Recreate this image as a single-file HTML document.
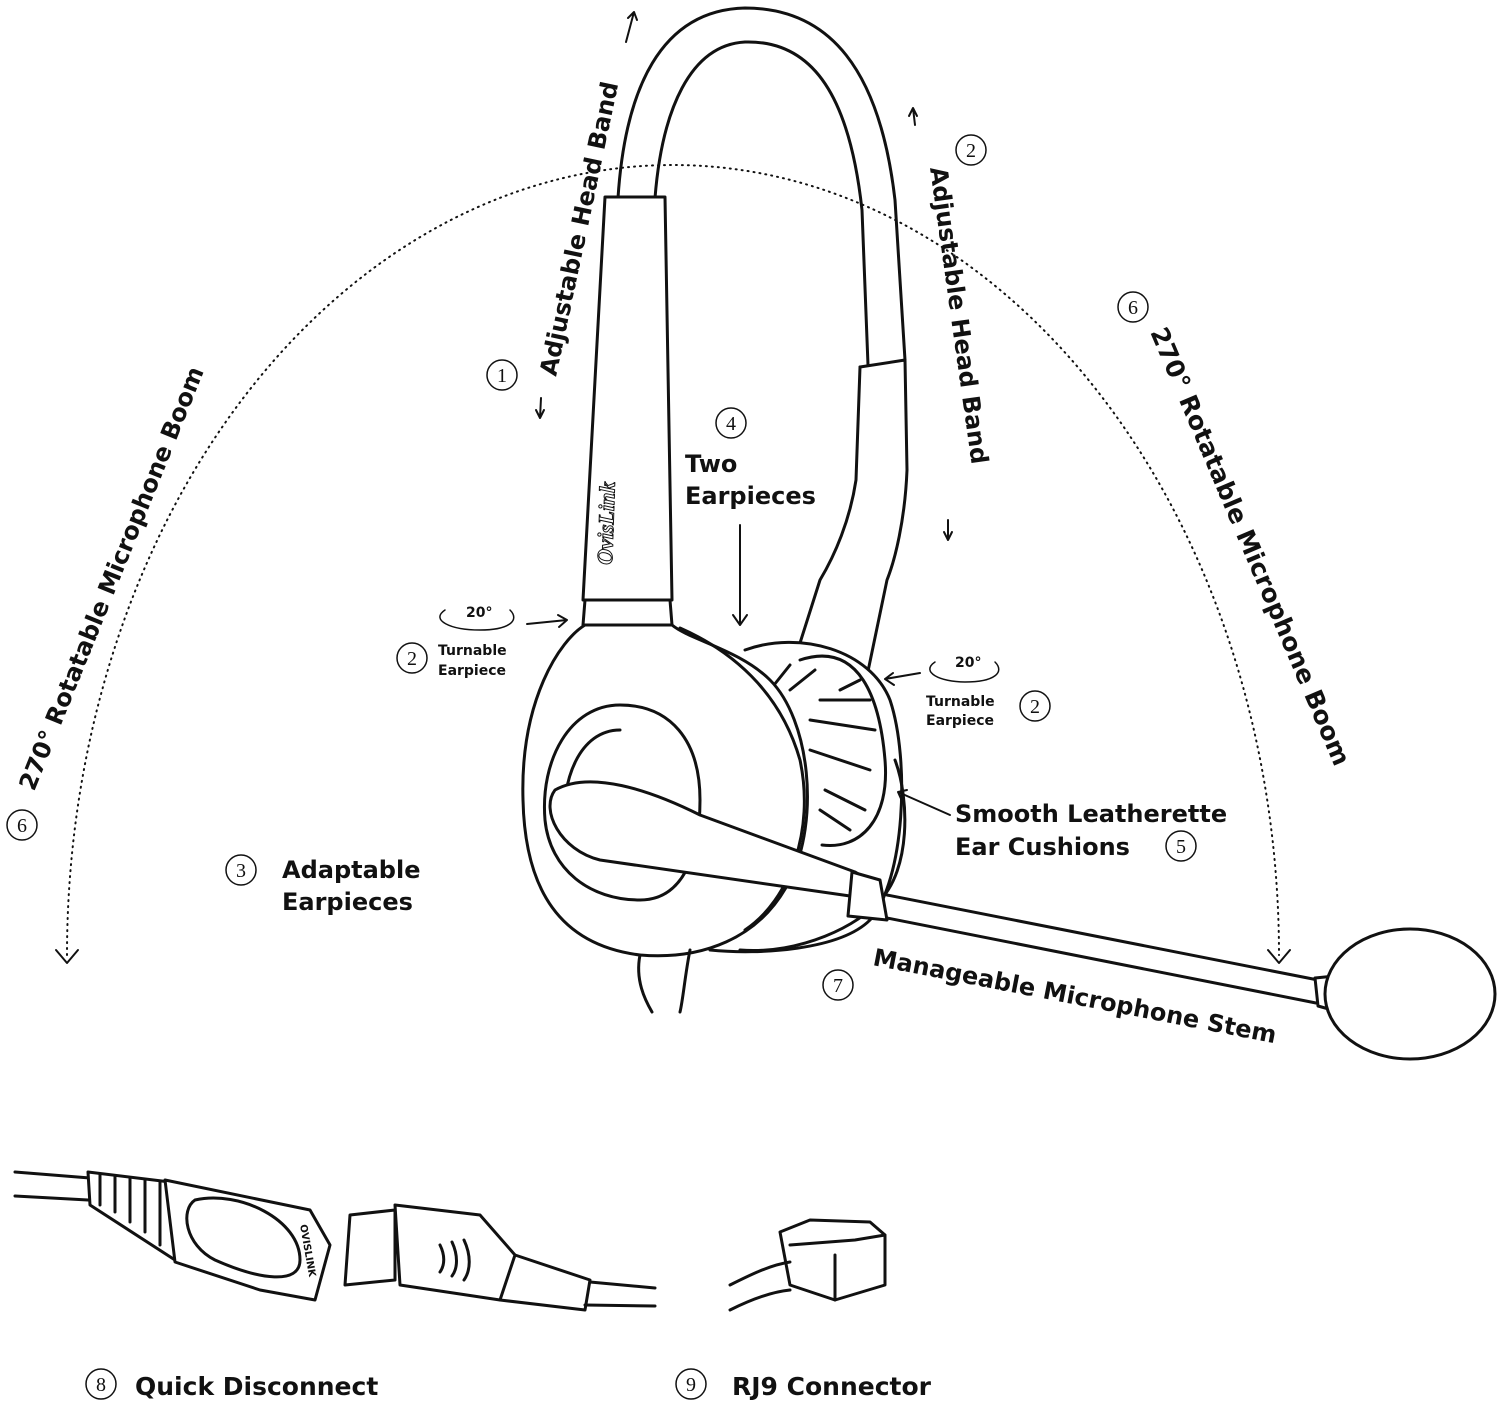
<!DOCTYPE html>
<html><head><meta charset="utf-8"><style>
html,body{margin:0;padding:0;background:#fff;}
svg{display:block}
.t{font-family:"DejaVu Sans","Liberation Sans",sans-serif;font-weight:bold;fill:#111;}
.n{font-family:"Liberation Serif",serif;fill:#111;}
</style></head><body>
<svg width="1500" height="1402" viewBox="0 0 1500 1402" xmlns="http://www.w3.org/2000/svg">
<defs>
<g id="circ"><circle r="15" fill="none" stroke="#111" stroke-width="1.5"/></g>
</defs>
<g fill="none" stroke="#111" stroke-width="3" stroke-linecap="round" stroke-linejoin="round">
<path d="M67,955 A606,790 0 0 1 1279,955" stroke-width="2" stroke-dasharray="1 5"/>
<path d="M56,950 L67,963 L78,950" stroke-width="2"/>
<path d="M1268,950 L1279,963 L1290,950" stroke-width="2"/>
<!-- headband -->
<path d="M618,198 C625,90 660,10 745,8 C830,8 880,70 895,200 L905,360"/>
<path d="M655,198 C662,110 690,45 745,42 C815,40 850,100 862,210 L868,365"/>
<!-- left slider -->
<path d="M605,197 L665,197 L672,600 L583,600 Z" fill="#fff"/>
<path d="M585,600 L670,600 L672,625 L583,625 Z" fill="#fff"/>
<!-- right slider -->
<path d="M860,367 L905,360 L907,470 C905,520 895,560 887,580 L867,676"/>
<path d="M860,367 L856,480 C850,520 835,555 820,580 L800,643"/>
<!-- right cushion -->
<path d="M745,650 C800,630 870,650 890,700 C910,760 905,880 870,920 C840,950 760,955 710,950" fill="#fff"/>
<path d="M800,660 C860,640 880,700 885,760 C890,820 860,850 822,845"/>
<path d="M840,690 L860,680 M820,700 L870,700 M810,720 L875,730 M810,750 L870,770 M825,790 L865,810 M820,810 L850,830 M790,690 L815,670 M770,690 L790,665"/>
<path d="M895,760 C910,800 910,870 880,900 C860,925 800,955 740,950"/>
<!-- left earpiece body -->
<path d="M585,625 C560,640 520,700 523,800 C525,890 560,945 640,955 C700,960 760,940 790,880 C820,820 810,720 770,680 C740,650 690,640 672,625 Z" fill="#fff"/>
<path d="M680,628 C730,650 780,690 800,760 C815,830 790,900 745,930"/>
<path d="M620,705 C570,705 540,760 545,820 C550,870 590,900 640,900 C680,900 700,860 700,800 C700,740 670,705 620,705 Z"/>
<path d="M620,730 C580,730 560,780 565,830"/>
<!-- mic boom arm -->
<path d="M555,790 C590,770 650,790 700,815 L855,872 C870,880 868,895 850,896 L600,860 C560,850 540,810 555,790 Z" fill="#fff"/>
<path d="M852,872 L880,880 L887,920 L848,916 Z" fill="#fff"/>
<path d="M887,895 L1318,980 M887,918 L1316,1003"/>
<path d="M1315,978 L1345,975 L1350,1015 L1318,1006 Z" fill="#fff"/>
<ellipse cx="1410" cy="994" rx="85" ry="65" fill="#fff"/>
<!-- cord -->
<path d="M640,955 C635,980 645,1000 652,1012 M690,950 C685,975 683,1000 680,1012"/>
<!-- quick disconnect -->
<path d="M15,1172 L90,1178 M15,1196 L88,1200"/>
<path d="M88,1172 L170,1182 L175,1260 L90,1205 Z" fill="#fff"/>
<path d="M100,1175 L100,1205 M115,1177 L115,1212 M130,1178 L130,1222 M145,1180 L145,1232 M160,1181 L160,1245"/>
<path d="M165,1180 L310,1210 L330,1245 L315,1300 L260,1290 L175,1262 Z" fill="#fff"/>
<path d="M195,1200 C240,1190 300,1220 300,1260 C300,1285 260,1280 215,1260 C185,1245 180,1210 195,1200 Z"/>
<path d="M350,1215 L395,1210 L395,1280 L345,1285 Z" fill="#fff"/>
<path d="M395,1205 L480,1215 L515,1255 L500,1300 L400,1285 Z" fill="#fff"/>
<path d="M515,1255 L590,1280 L585,1310 L500,1300"/>
<path d="M590,1282 L655,1288 M585,1305 L655,1306"/>
<path d="M440,1245 C445,1255 445,1265 440,1272 M452,1242 C458,1255 458,1268 452,1276 M464,1240 C471,1255 471,1270 464,1280"/>
<!-- RJ9 -->
<path d="M780,1232 L810,1220 L870,1222 L885,1235 L885,1285 L835,1300 L790,1285 Z" fill="#fff"/>
<path d="M790,1245 L855,1240 L885,1235 M835,1255 L835,1300"/>
<path d="M730,1285 C750,1275 770,1265 790,1262 M730,1310 C750,1300 770,1292 790,1290"/>
<!-- arrows -->
<path d="M740,525 L740,625 M733,615 L740,625 L747,615" stroke-width="2"/>
<path d="M527,624 L567,620 M558,615 L567,620 L559,627" stroke-width="2"/>
<path d="M920,673 L885,679 M893,673 L885,679 L894,685" stroke-width="2"/>
<path d="M950,815 L898,792 M902,801 L898,792 L907,790" stroke-width="2"/>
<path d="M541,398 L540,418 M536,410 L540,418 L544,410" stroke-width="2"/>
<path d="M626,42 L634,12 M628,18 L634,12 L637,20" stroke-width="2"/>
<path d="M915,125 L913,108 M909,116 L913,108 L917,116" stroke-width="2"/>
<path d="M948,520 L948,540 M944,532 L948,540 L952,532" stroke-width="2"/>
<path d="M445,610 C430,620 450,630 480,630 C510,630 520,620 510,610" stroke-width="1.5"/>
<path d="M935,662 C920,672 940,682 965,682 C995,682 1005,672 995,662" stroke-width="1.5"/>
</g>
<text class="t" font-size="24" transform="translate(556,377) rotate(-78)">Adjustable Head Band</text>
<text class="t" font-size="24" transform="translate(930,168) rotate(82)">Adjustable Head Band</text>
<text class="t" font-size="24" transform="translate(34,792) rotate(-68)">270° Rotatable Microphone Boom</text>
<text class="t" font-size="25" transform="translate(1150,332) rotate(67)">270° Rotatable Microphone Boom</text>
<text class="t" font-size="24" transform="translate(872,965) rotate(11)">Manageable Microphone Stem</text>
<text class="t" font-size="24" x="685" y="472">Two</text>
<text class="t" font-size="24" x="685" y="504">Earpieces</text>
<text class="t" font-size="24" x="955" y="822">Smooth Leatherette</text>
<text class="t" font-size="24" x="955" y="855">Ear Cushions</text>
<text class="t" font-size="24" x="282" y="878">Adaptable</text>
<text class="t" font-size="24" x="282" y="910">Earpieces</text>
<text class="t" font-size="25" x="135" y="1395">Quick Disconnect</text>
<text class="t" font-size="25" x="732" y="1395">RJ9 Connector</text>
<text class="t" font-size="14" x="466" y="617">20°</text>
<text class="t" font-size="14" x="438" y="655">Turnable</text>
<text class="t" font-size="14" x="438" y="675">Earpiece</text>
<text class="t" font-size="14" x="955" y="667">20°</text>
<text class="t" font-size="14" x="926" y="706">Turnable</text>
<text class="t" font-size="14" x="926" y="725">Earpiece</text>
<text class="t" font-size="10" transform="translate(300,1225) rotate(80)">OVISLINK</text>
<text font-family="Liberation Serif,serif" font-style="italic" font-weight="bold" font-size="22" fill="#fff" stroke="#111" stroke-width="1" transform="translate(612,565) rotate(-88)">OvisLink</text>
<g class="n" font-size="20" text-anchor="middle">
<use href="#circ" x="502" y="375"/><text x="502" y="382">1</text>
<use href="#circ" x="971" y="150"/><text x="971" y="157">2</text>
<use href="#circ" x="1133" y="307"/><text x="1133" y="314">6</text>
<use href="#circ" x="22" y="825"/><text x="22" y="832">6</text>
<use href="#circ" x="731" y="423"/><text x="731" y="430">4</text>
<use href="#circ" x="412" y="658"/><text x="412" y="665">2</text>
<use href="#circ" x="1035" y="706"/><text x="1035" y="713">2</text>
<use href="#circ" x="1181" y="846"/><text x="1181" y="853">5</text>
<use href="#circ" x="241" y="870"/><text x="241" y="877">3</text>
<use href="#circ" x="838" y="985"/><text x="838" y="992">7</text>
<use href="#circ" x="101" y="1384"/><text x="101" y="1391">8</text>
<use href="#circ" x="691" y="1384"/><text x="691" y="1391">9</text>
</g>
</svg>
</body></html>
